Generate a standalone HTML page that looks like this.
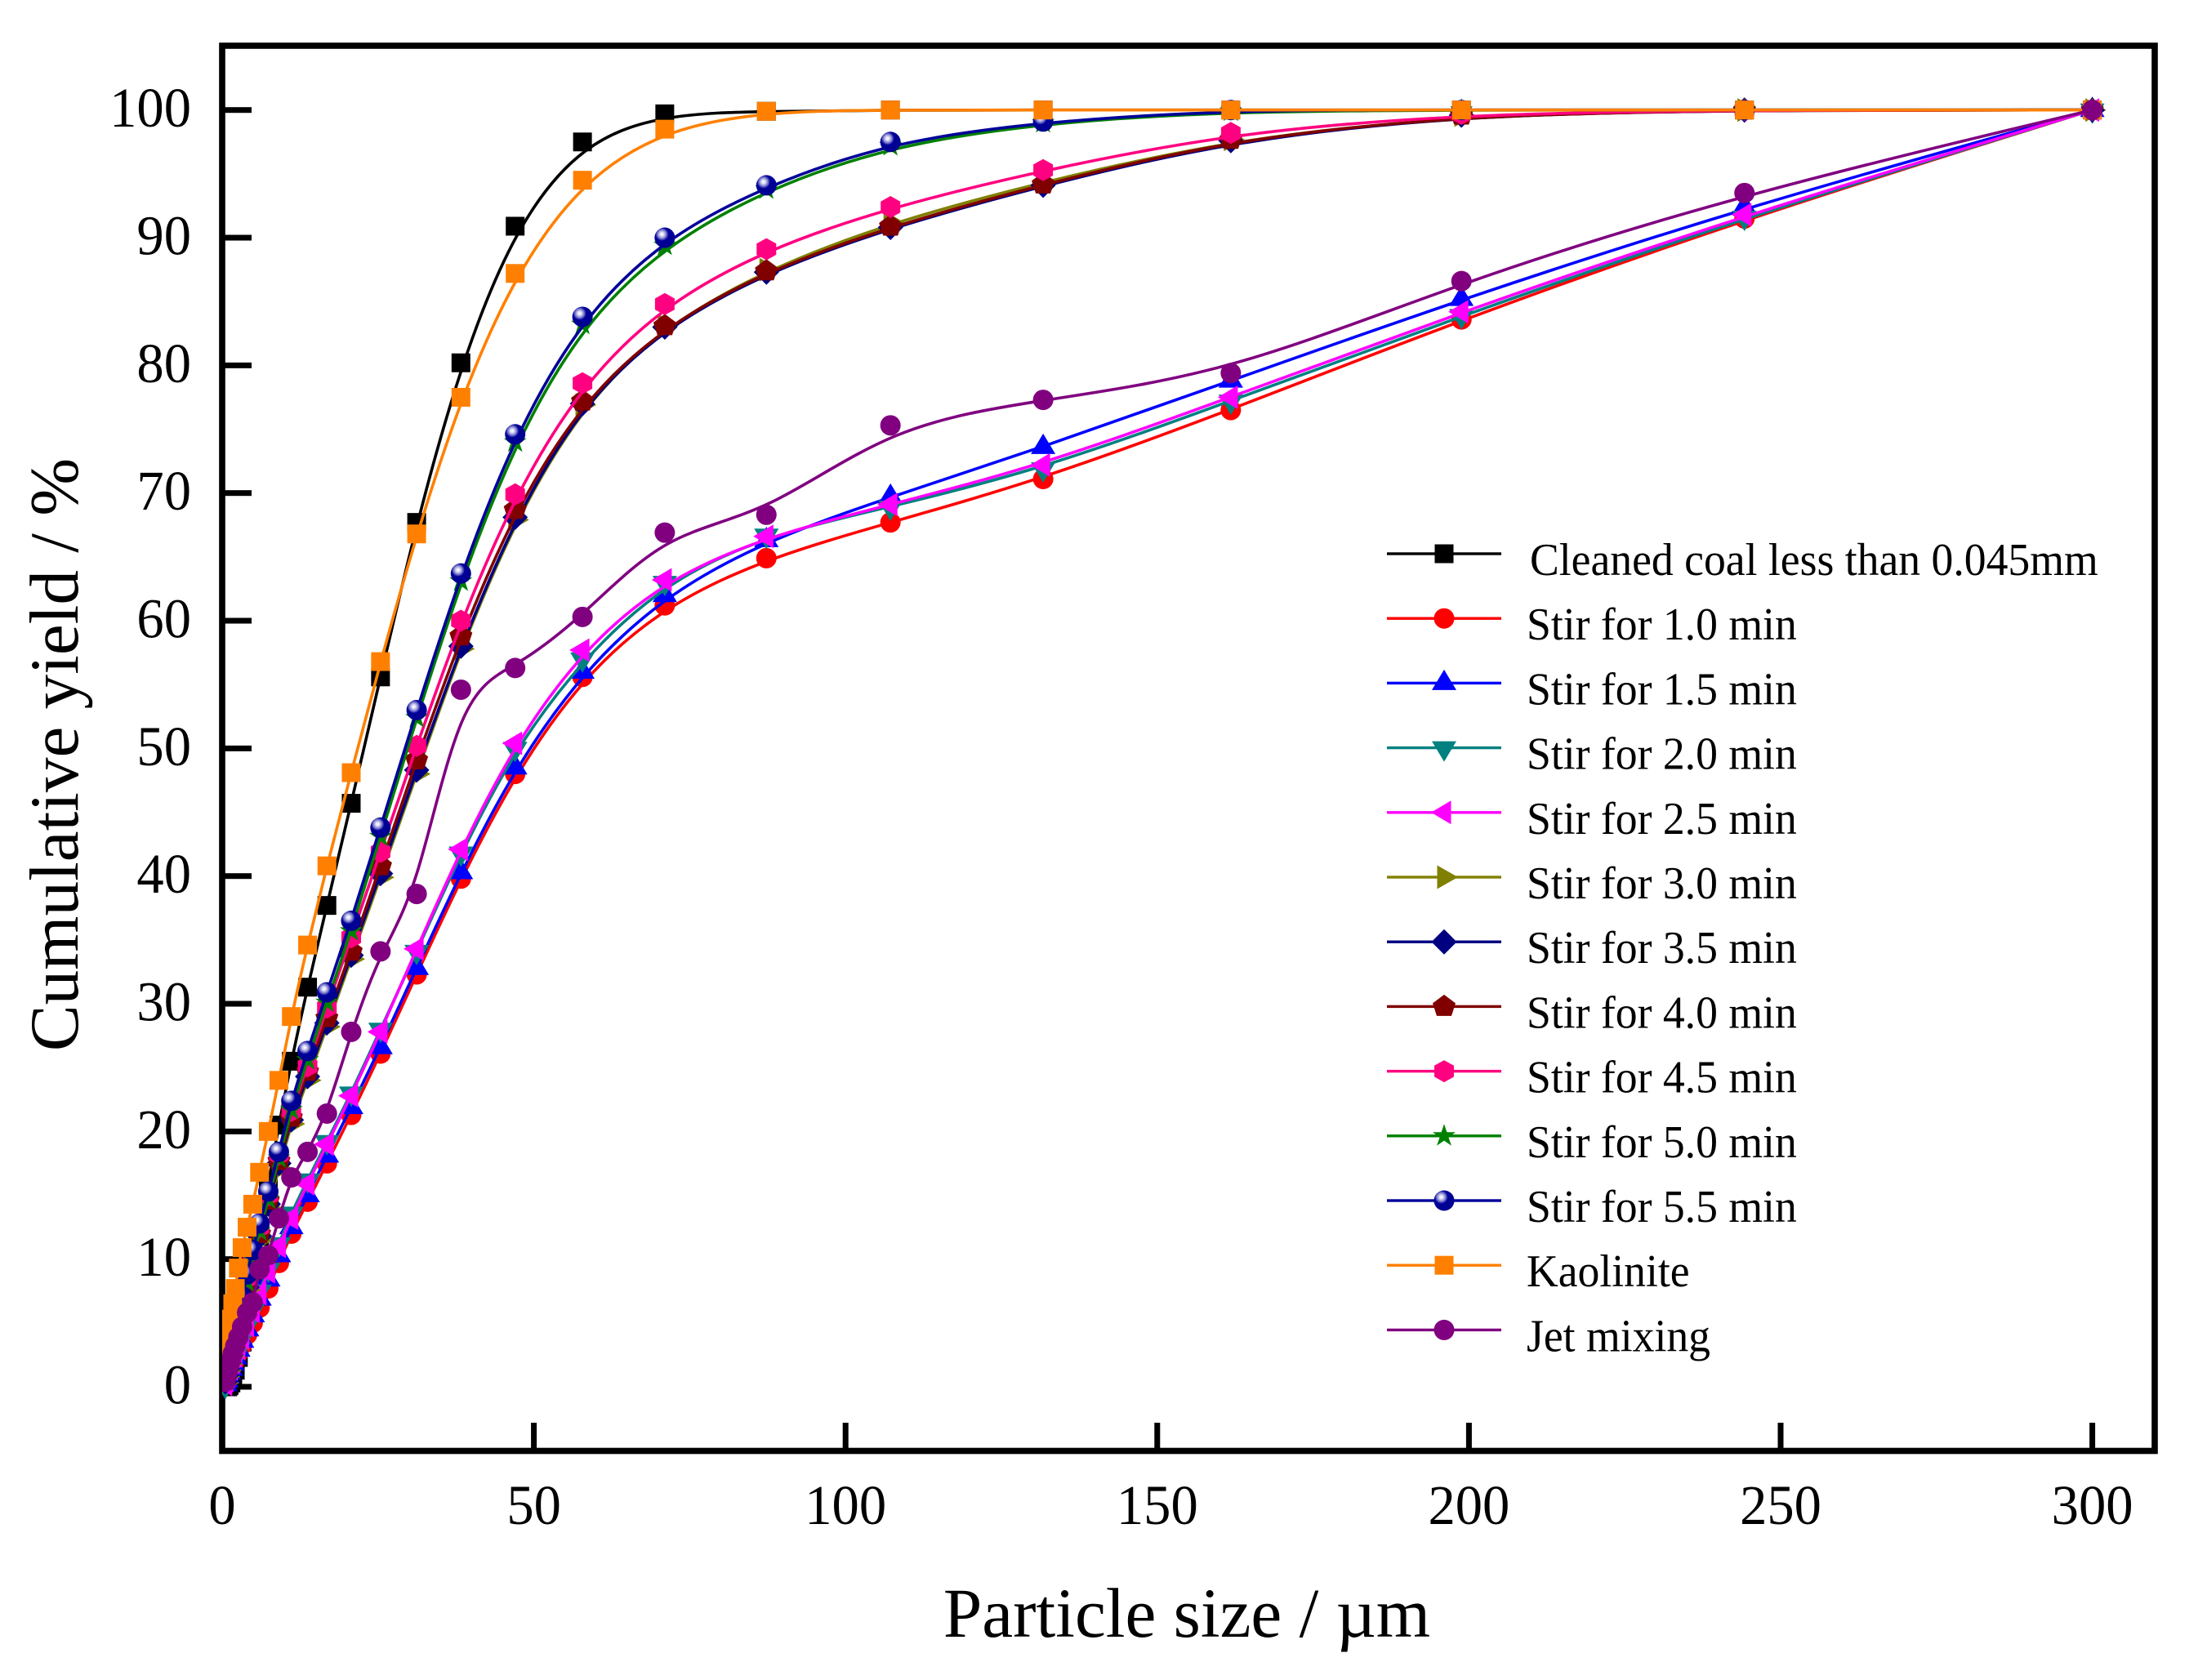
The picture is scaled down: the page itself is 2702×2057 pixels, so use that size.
<!DOCTYPE html>
<html lang="en">
<head>
<meta charset="utf-8">
<title>Cumulative yield vs particle size</title>
<style>
html,body{margin:0;padding:0;background:#fff;width:2702px;height:2057px;overflow:hidden}
svg{display:block}
text{font-family:"Liberation Serif",serif;fill:#000}
</style>
</head>
<body>
<svg id="chart" xmlns="http://www.w3.org/2000/svg" width="2702" height="2057" viewBox="0 0 2702 2057">
  <defs>
    <clipPath id="plot-clip"><rect x="272" y="0" width="2430" height="2057"/></clipPath>
    <radialGradient id="sphere-fill" cx="0.36" cy="0.33" r="0.62">
      <stop offset="0" stop-color="#ffffff"/>
      <stop offset="0.12" stop-color="#e8e8f8"/>
      <stop offset="0.26" stop-color="#a8a8e0"/>
      <stop offset="0.4" stop-color="#5a5ac0"/>
      <stop offset="0.52" stop-color="#000099"/>
      <stop offset="1" stop-color="#000090"/>
    </radialGradient>
  </defs>
  <rect x="0" y="0" width="2702" height="2057" fill="#ffffff"/>
  <g id="axes"></g>
  <g id="series" clip-path="url(#plot-clip)"></g>
  <g id="legend"></g>
  <text x="1453" y="2004" font-size="85.3" text-anchor="middle">Particle size / µm</text>
  <text transform="translate(95,924) rotate(-90)" font-size="85.2" text-anchor="middle">Cumulative yield / %</text>
</svg>
<script>
// Particle size (µm)
const sizes = [300,244.2,198.8,161.8,131.7,107.2,87.3,71,57.8,47,38.3,31.2,25.4,20.7,16.8,13.7,11.1,9.1,7.4,6,4.9,4,3.2,2.6,2.1,1.7,1.4,1.1,0.9,0.7,0.5];
// Cumulative yield (%) for each series
const cleanedCoal = [100,100,100,100,100,100,99.9,99.7,97.5,90.9,80.2,67.7,55.6,45.7,37.7,31.3,25.5,20.5,16,11.8,8.3,5.5,3.5,2.3,1.3,0.7,0.3,0.1,0,0,0];
const stir10 = [100,91.5,83.6,76.5,71.1,67.7,64.9,61.2,55.6,48,39.8,32.3,26.1,21.3,17.5,14.5,12,9.7,7.7,6.2,5,4.1,3.3,2.7,2.1,1.7,1.3,1,0.7,0.4,0.2];
const stir15 = [100,92.4,85.2,78.8,73.6,69.7,66.3,62,56,48.5,40.3,32.8,26.6,21.9,18.1,15,12.5,10.3,8.4,6.9,5.6,4.5,3.6,2.9,2.3,1.8,1.4,1.1,0.8,0.5,0.2];
const stir20 = [100,91.6,83.9,77.2,71.9,68.9,66.7,63,57,50,41.8,34.1,28,23,19.2,16.2,13.6,11.2,9.2,7.5,6,4.8,3.8,3,2.4,1.9,1.5,1.1,0.8,0.5,0.1];
const stir25 = [100,91.8,84.2,77.5,72.2,69.1,66.6,63.2,57.7,50.4,42.1,34.3,27.8,22.8,19,15.9,13.2,11,9,7.3,5.9,4.8,3.8,3,2.4,1.9,1.4,1.1,0.8,0.5,0.2];
const stir30 = [100,100,99.6,97.7,94.4,91.2,87.5,83.1,76.9,67.9,57.8,48,39.9,33.5,28.2,24,20.6,17.1,14,11.5,9.4,7.6,6.1,4.9,3.9,3.1,2.4,1.8,1.3,0.8,0.3];
const stir35 = [100,100,99.6,97.6,94.1,90.8,87.3,83,77,68.1,58,48.3,40.2,33.8,28.5,24.3,20.9,17.5,14.3,11.8,9.6,7.8,6.3,5,4,3.2,2.5,1.9,1.4,0.9,0.4];
const stir40 = [100,100,99.6,97.7,94.2,90.9,87.4,83.1,77.2,68.7,58.8,49.1,40.8,34.1,28.9,24.7,21.1,17.7,14.6,12,9.8,8,6.5,5.2,4.2,3.3,2.6,2,1.5,1,0.5];
const stir45 = [100,100,99.7,98.2,95.3,92.4,89.1,84.8,78.6,69.9,60,50.2,41.9,35.2,29.7,25.1,21.6,18.2,15,12.5,10.4,8.5,6.9,5.6,4.5,3.5,2.8,2.1,1.5,1,0.5];
const stir50 = [100,100,100,99.9,99,97.2,93.8,89.4,83.2,74,63.1,52.4,43.1,35.7,30.1,25.6,21.7,17.9,14.7,12.2,10,8.2,6.6,5.3,4.2,3.3,2.6,2,1.5,1,0.5];
const stir55 = [100,100,100,100,99.1,97.5,94.1,90,83.8,74.6,63.7,53,43.8,36.5,30.9,26.3,22.4,18.4,15.3,12.8,10.7,8.8,7.1,5.7,4.6,3.6,2.8,2.1,1.5,1,0.5];
const kaolinite = [100,100,100,100,100,100,99.9,98.5,94.5,87.2,77.5,66.8,56.8,48.1,40.8,34.6,29,24,20,16.8,14.3,12.5,10.9,9.3,7.7,6.5,5.3,4.2,3.3,2.5,1.8];
const jetMixing = [100,93.5,86.6,79.4,77.3,75.3,68.3,66.9,60.3,56.3,54.6,38.6,34.1,27.8,21.4,18.4,16.4,13.2,10.3,9.2,6.6,5.8,4.7,3.9,3.2,2.6,2.1,1.6,1.2,0.8,0.4];
// Axis tick labels
const xTicks = [0,50,100,150,200,250,300];
const yTicks = [0,10,20,30,40,50,60,70,80,90,100];

const seriesList = [
  {label:'Cleaned coal less than 0.045mm', slug:'cleaned-coal', values:cleanedCoal, color:'#000000', shape:'square'},
  {label:'Stir for 1.0 min', slug:'stir-1-0', values:stir10, color:'#ff0000', shape:'circle'},
  {label:'Stir for 1.5 min', slug:'stir-1-5', values:stir15, color:'#0000ff', shape:'up'},
  {label:'Stir for 2.0 min', slug:'stir-2-0', values:stir20, color:'#008080', shape:'down'},
  {label:'Stir for 2.5 min', slug:'stir-2-5', values:stir25, color:'#ff00ff', shape:'left'},
  {label:'Stir for 3.0 min', slug:'stir-3-0', values:stir30, color:'#808000', shape:'right'},
  {label:'Stir for 3.5 min', slug:'stir-3-5', values:stir35, color:'#000080', shape:'diamond'},
  {label:'Stir for 4.0 min', slug:'stir-4-0', values:stir40, color:'#800000', shape:'pentagon'},
  {label:'Stir for 4.5 min', slug:'stir-4-5', values:stir45, color:'#ff0080', shape:'hexagon'},
  {label:'Stir for 5.0 min', slug:'stir-5-0', values:stir50, color:'#008000', shape:'star'},
  {label:'Stir for 5.5 min', slug:'stir-5-5', values:stir55, color:'#000099', shape:'sphere'},
  {label:'Kaolinite', slug:'kaolinite', values:kaolinite, color:'#ff8000', shape:'square'},
  {label:'Jet mixing', slug:'jet-mixing', values:jetMixing, color:'#800080', shape:'circle'}
];

const NS = 'http://www.w3.org/2000/svg';
function xScale(v){ return 272 + v * 7.632; }
function yScale(v){ return 1698 - v * 15.633; }
function make(tag, attrs, parent){
  const el = document.createElementNS(NS, tag);
  for (const k in attrs) el.setAttribute(k, attrs[k]);
  parent.appendChild(el);
  return el;
}
const polys = {
  up:[[0,-16.5],[15,8.5],[-15,8.5]],
  down:[[0,17],[15,-8],[-15,-8]],
  left:[[-16,0],[8.5,-14.5],[8.5,14.5]],
  right:[[17,0],[-8.5,-14.5],[-8.5,14.5]],
  diamond:[[0,-15.5],[15.5,0],[0,15.5],[-15.5,0]],
  pentagon:[[0,-14.5],[14,-4],[9,11.5],[-9,11.5],[-14,-4]],
  hexagon:[[0,-13.5],[12,-6.8],[12,6.8],[0,13.5],[-12,6.8],[-12,-6.8]],
  star:[[0,-14.5],[3.4,-4.5],[14,-4.5],[5.5,1.8],[8.9,12],[0,5.8],[-8.9,12],[-5.5,1.8],[-14,-4.5],[-3.4,-4.5]]
};
function marker(shape, color, px, py, parent){
  let el;
  if (shape === 'square') {
    el = make('rect', {x:px-11.5, y:py-11.5, width:23, height:23, fill:color}, parent);
  } else if (shape === 'circle') {
    el = make('circle', {cx:px, cy:py, r:12.5, fill:color}, parent);
  } else if (shape === 'sphere') {
    el = make('circle', {cx:px, cy:py, r:12.5, fill:'url(#sphere-fill)'}, parent);
  } else {
    const pts = polys[shape].map(function(p){ return (px+p[0]).toFixed(1)+','+(py+p[1]).toFixed(1); }).join(' ');
    el = make('polygon', {points:pts, fill:color}, parent);
  }
  return el;
}
// Uniform cubic B-spline through the data as control points (end points clamped)
function splinePath(xs, ys){
  const n = xs.length;
  const gx = function(i){ return xs[Math.max(0, Math.min(n-1, i))]; };
  const gy = function(i){ return ys[Math.max(0, Math.min(n-1, i))]; };
  let d = 'M' + xScale(xs[0]).toFixed(2) + ' ' + yScale(ys[0]).toFixed(2);
  for (let i = -1; i < n; i++) {
    const x1 = gx(i), x2 = gx(i+1), x3 = gx(i+2);
    const y1 = gy(i), y2 = gy(i+1), y3 = gy(i+2);
    const c1x = (2*x1 + x2)/3, c1y = (2*y1 + y2)/3;
    const c2x = (x1 + 2*x2)/3, c2y = (y1 + 2*y2)/3;
    const ex = (x1 + 4*x2 + x3)/6, ey = (y1 + 4*y2 + y3)/6;
    d += 'C' + xScale(c1x).toFixed(2) + ' ' + yScale(c1y).toFixed(2) + ' ' +
         xScale(c2x).toFixed(2) + ' ' + yScale(c2y).toFixed(2) + ' ' +
         xScale(ex).toFixed(2) + ' ' + yScale(ey).toFixed(2);
  }
  return d;
}

// Axes
const axes = document.getElementById('axes');
const frame = make('rect', {x:272, y:56, width:2366, height:1720.5, fill:'none', stroke:'#000', 'stroke-width':7.6}, axes);


xTicks.forEach(function(t){
  const tick = make('rect', {x:xScale(t)-3.5, y:1742, width:7, height:32, fill:'#000'}, axes);
  
  
  const lab = make('text', {transform:'translate(' + xScale(t) + ',1866) scale(0.965,1)', 'font-size':69, 'text-anchor':'middle'}, axes);
  lab.textContent = String(t);
  
  
});
yTicks.forEach(function(t){
  const tick = make('rect', {x:275, y:yScale(t)-3.5, width:33, height:7, fill:'#000'}, axes);
  
  
  const lab = make('text', {transform:'translate(234,' + (yScale(t)+20.5) + ') scale(0.965,1)', 'font-size':69, 'text-anchor':'end'}, axes);
  lab.textContent = String(t);
  
  
});

// Series
const seriesLayer = document.getElementById('series');
seriesList.forEach(function(s){
  const g = make('g', {}, seriesLayer);
  
  
  const line = make('path', {d:splinePath(sizes, s.values), fill:'none', stroke:s.color, 'stroke-width':3.6}, g);
  
  
  s.values.forEach(function(v, i){
    const m = marker(s.shape, s.color, xScale(sizes[i]), yScale(v), g);
    
    
  });
});

// Legend
const legend = document.getElementById('legend');
seriesList.forEach(function(s, i){
  const rowY = 678 + i * 79.2;
  const g = make('g', {}, legend);
  
  
  const ln = make('rect', {x:1698, y:rowY-1.7, width:140, height:3.4, fill:s.color}, g);
  
  
  const mk = marker(s.shape, s.color, 1768, rowY, g);
  
  
  const tx = make('text', {transform:'translate(' + (i === 0 ? 1873 : 1869) + ',' + (rowY+26) + ') scale(0.958,1)', 'font-size':56}, g);
  tx.textContent = s.label;
  
  
});
</script>
</body>
</html>
